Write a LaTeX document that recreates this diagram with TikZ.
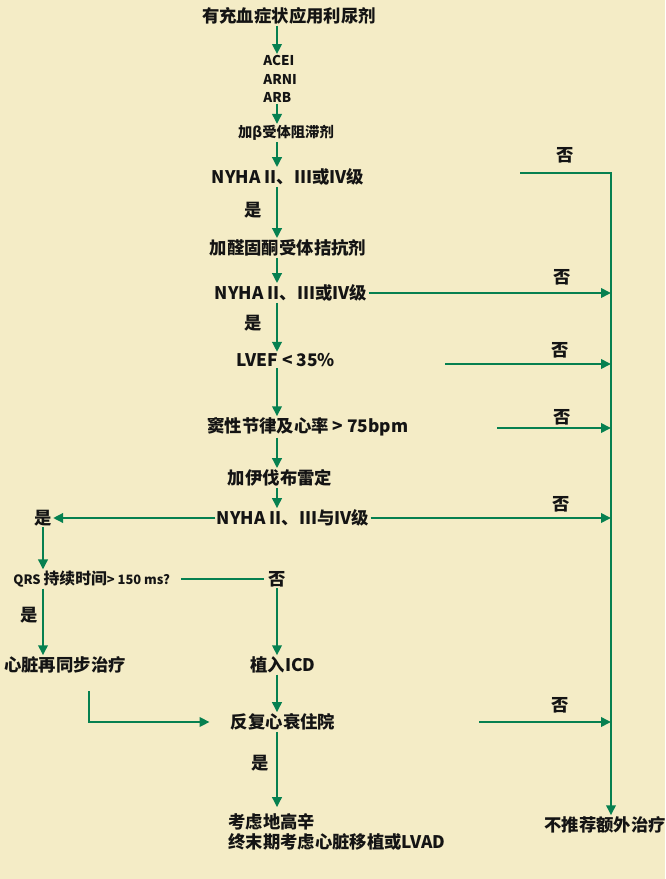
\documentclass[tikz,border=0pt]{standalone}
\usepackage{fontspec}
\setmainfont{Noto Sans CJK SC}
\usetikzlibrary{arrows.meta, positioning, calc}
\definecolor{bgBase}{RGB}{244,236,198}
\definecolor{flowGreen}{RGB}{6,128,80}
\definecolor{txtDark}{RGB}{20,20,20}

\begin{document}
\begin{tikzpicture}[x=0.03cm, y=-0.03cm,
        txt/.style={inner sep=1pt, text=txtDark, font=\bfseries\fontsize{14.8}{17}\selectfont},
        sm/.style={inner sep=1pt, text=txtDark, font=\bfseries\fontsize{11.5}{15.7}\selectfont},
        arr/.style={-{Triangle[length=0.3cm, width=0.28cm]}, line width=2.4pt, flowGreen},
        ln/.style={line width=2.4pt, flowGreen},
    ]
    \path[use as bounding box, fill=bgBase] (0,0) rectangle (665,879);
    \coordinate (axis) at (277,0);
    \coordinate (bus) at (611,173);
    \coordinate (crtTurn) at (89,0);
    \node[txt] at (289,16) (title) {有充血症状应用利尿剂};
    \node[sm, align=left, anchor=west] at (262,79) (drugs) {ACEI\\ARNI\\ARB};
    \node[txt, font=\bfseries\fontsize{12.2}{14}\selectfont] at (286,133) (beta) {加β受体阻滞剂};
    \node[txt] at (288,177) (nyha1) {NYHA II、III或IV级};
    \node[txt] at (253,210) (yes1) {是};
    \node[txt] at (288,248) (aldo) {加醛固酮受体拮抗剂};
    \node[txt] at (291,293) (nyha2) {NYHA II、III或IV级};
    \node[txt] at (253,323) (yes2) {是};
    \node[txt] at (286,360) (lvef) {LVEF < 35\%};
    \node[txt, anchor=west] at (206,427) (sinus) {窦性节律及心率 > 75bpm};
    \node[txt] at (280,478) (ivab) {加伊伐布雷定};
    \node[txt] at (293,518) (nyha3) {NYHA II、III与IV级};
    \node[txt] at (43,518) (yesL) {是};
    \node[txt, anchor=west] at (12,579) (qrs) {\fontsize{11}{13}\selectfont QRS \fontsize{13.5}{15}\selectfont 持续时间\fontsize{11}{13}\selectfont > 150 ms?};
    \node[txt] at (277,579) (noQ) {否};
    \node[txt] at (29,615) (yesQ) {是};
    \node[txt] at (65,665) (crt) {心脏再同步治疗};
    \node[txt] at (283,665) (icd) {植入ICD};
    \node[txt] at (283,722) (rehosp) {反复心衰住院};
    \node[txt] at (260,763) (yes3) {是};
    \node[txt, align=left, anchor=west] at (227,832) (final) {考虑地高辛\\终末期考虑心脏移植或LVAD};
    \node[txt, anchor=west] at (543,825) (none) {不推荐额外治疗};
    \node[txt] at (565,155) (no1) {否};
    \node[txt] at (562,277) (no2) {否};
    \node[txt] at (560,350) (no3) {否};
    \node[txt] at (562,417) (no4) {否};
    \node[txt] at (561,504) (no5) {否};
    \node[txt] at (560,705) (no6) {否};
    \coordinate (busStart) at (520,173);
    \coordinate (lvefNo) at (445,364);
    \coordinate (sinusNo) at (497,428);
    \coordinate (rehospNo) at (479,722);
    \draw[arr] (title.south -| axis) -- (drugs.north -| axis);
    \draw[arr] (drugs.south -| axis) -- (beta.north -| axis);
    \draw[arr] (beta.south -| axis) -- (nyha1.north -| axis);
    \draw[arr] (nyha1.south -| axis) -- (aldo.north -| axis);
    \draw[arr] (aldo.south -| axis) -- (nyha2.north -| axis);
    \draw[arr] (nyha2.south -| axis) -- (lvef.north -| axis);
    \draw[arr] (lvef.south -| axis) -- (sinus.north -| axis);
    \draw[arr] (sinus.south -| axis) -- (ivab.north -| axis);
    \draw[arr] (ivab.south -| axis) -- (nyha3.north -| axis);
    \draw[arr] (nyha3.west) -- (yesL.east);
    \draw[arr] (yesL.south) -- (qrs.north -| yesL);
    \draw[arr] (qrs.south -| yesL) -- (crt.north -| yesL);
    \draw[ln, shorten <=0.3cm, shorten >=0.1cm] (qrs.east) -- (noQ.west);
    \draw[arr] (noQ.south) -- (icd.north -| noQ);
    \draw[arr] (icd.south -| axis) -- (rehosp.north -| axis);
    \draw[arr, shorten <=0.5cm, shorten >=0.6cm] (crt.south -| crtTurn) |- (rehosp.west);
    \draw[arr, shorten >=0.15cm] (rehosp.south -| axis) -- (final.north -| axis);
    \draw[arr] (busStart) -- (bus) -- (none.north -| bus);
    \draw[arr] (nyha2.east) -- (nyha2.east -| bus);
    \draw[arr] (lvefNo) -- (lvefNo -| bus);
    \draw[arr] (sinusNo) -- (sinusNo -| bus);
    \draw[arr] (nyha3.east) -- (nyha3.east -| bus);
    \draw[arr] (rehospNo) -- (rehospNo -| bus);
\end{tikzpicture}
\end{document}
